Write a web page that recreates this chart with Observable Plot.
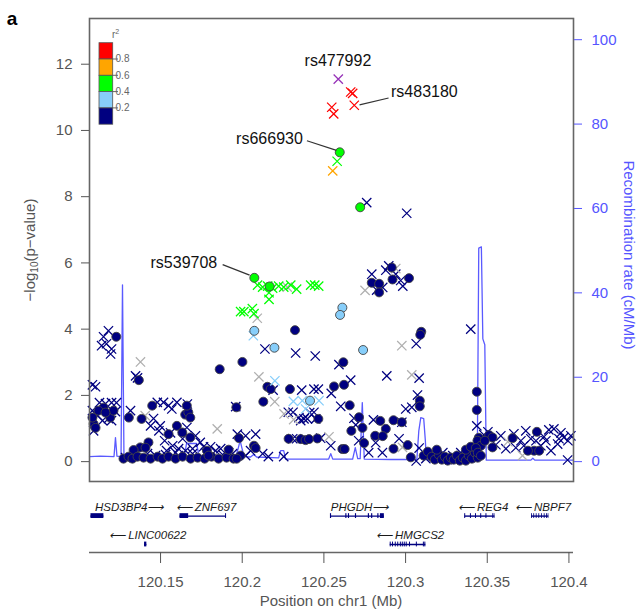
<!DOCTYPE html>
<html><head><meta charset="utf-8">
<script src="https://cdn.jsdelivr.net/npm/d3@7"></script>
<script src="https://cdn.jsdelivr.net/npm/@observablehq/plot@0.6"></script>
<style>
body{margin:0;background:#fff;font-family:"Liberation Sans",Arial,sans-serif;}
#wrap{position:relative;width:640px;height:610px;}
#wrap svg{display:block;}
</style></head><body><div id="wrap"></div>
<script>
// ---------- data ----------
const pTicks = [0, 2, 4, 6, 8, 10, 12];
const rateTicks = [0, 20, 40, 60, 80, 100];
const posTicks = [120.15, 120.2, 120.25, 120.3, 120.35, 120.4];
const ldKeys = ["n", "b", "g", "o", "r", "p", "x"];
const ldColors = ["#000080", "#87CEFA", "#00FF00", "#FFA500", "#FF0000", "#9632B8", "#B0B0B0"];
const legendColors = ["#FF0000", "#FFA500", "#00FF00", "#87CEFA", "#000080"];
const legendTicks = ["0.8", "0.6", "0.4", "0.2"];

// genotyped SNPs (circles): [position Mb, -log10 p, LD class]
const circles = [
[120.1229,3.77,"n"],[120.1151,1.63,"n"],[120.1120,1.54,"n"],[120.1192,1.33,"n"],[120.1212,1.54,"n"],
[120.1090,1.14,"n"],[120.1102,1.02,"n"],[120.1083,1.33,"n"],[120.1163,1.48,"n"],[120.1367,2.46,"n"],
[120.1306,1.33,"n"],[120.1384,1.29,"n"],[120.1449,1.69,"n"],[120.1426,0.58,"n"],[120.1376,0.43,"n"],
[120.1335,0.35,"n"],[120.1408,0.42,"n"],[120.1273,0.09,"n"],[120.1304,0.15,"n"],[120.1328,0.09,"n"],
[120.1359,0.15,"n"],[120.1396,0.12,"n"],[120.1439,0.09,"n"],[120.1482,0.15,"n"],[120.1651,1.42,"n"],
[120.1670,1.49,"n"],[120.1682,1.33,"n"],[120.1661,1.69,"n"],[120.1600,1.08,"n"],[120.1549,0.83,"n"],
[120.1682,0.73,"n"],[120.1633,0.88,"n"],[120.1784,0.33,"n"],[120.1862,2.79,"n"],[120.2001,3.01,"n"],
[120.1964,1.64,"n"],[120.1512,0.09,"n"],[120.1549,0.15,"n"],[120.1592,0.09,"n"],[120.1635,0.15,"n"],
[120.1684,0.09,"n"],[120.1727,0.12,"n"],[120.1770,0.09,"n"],[120.1812,0.15,"n"],[120.1855,0.09,"n"],
[120.1904,0.12,"n"],[120.1947,0.09,"n"],[120.1794,0.18,"n"],[120.1917,0.36,"n"],
[120.2323,3.97,"n"],[120.2154,2.26,"n"],[120.2174,2.19,"n"],[120.2292,2.19,"n"],[120.2129,1.81,"n"],
[120.2466,1.29,"n"],[120.1980,0.71,"n"],[120.2072,0.48,"n"],[120.2082,0.41,"n"],[120.2284,0.69,"n"],
[120.2358,0.68,"n"],[120.2388,0.65,"n"],[120.2409,0.68,"n"],[120.2460,0.70,"n"],[120.1990,0.18,"n"],
[120.1966,0.09,"n"],
[120.2793,5.40,"n"],[120.2838,5.37,"n"],[120.2838,5.11,"n"],[120.2915,5.86,"n"],[120.2920,5.50,"n"],
[120.3021,5.54,"n"],[120.3096,3.92,"n"],[120.3090,3.83,"n"],[120.2619,3.00,"n"],[120.2562,2.27,"n"],
[120.2623,2.32,"n"],[120.3087,1.84,"n"],[120.3087,1.67,"n"],[120.2658,1.70,"n"],[120.2715,1.34,"n"],
[120.2845,1.23,"n"],[120.2926,1.25,"n"],[120.2977,1.19,"n"],[120.2879,0.99,"n"],[120.2668,0.93,"n"],
[120.2736,1.02,"n"],[120.2814,0.78,"n"],[120.2860,0.77,"n"],[120.2746,0.56,"n"],[120.2613,0.38,"n"],
[120.2627,0.38,"n"],[120.2926,0.39,"n"],[120.3013,0.50,"n"],[120.3032,0.13,"n"],
[120.3111,0.18,"n"],[120.3136,0.30,"n"],[120.3160,0.15,"n"],[120.3179,0.06,"n"],[120.3203,0.21,"n"],
[120.3222,0.06,"n"],[120.3240,0.15,"n"],[120.3258,0.03,"n"],[120.3277,0.12,"n"],[120.3295,0.06,"n"],
[120.3314,0.18,"n"],[120.3332,0.03,"n"],[120.3350,0.12,"n"],[120.3369,0.03,"n"],[120.3387,0.18,"n"],
[120.3406,0.09,"n"],[120.3424,0.27,"n"],[120.3442,0.12,"n"],[120.3369,0.36,"n"],[120.3399,0.45,"n"],
[120.3436,2.11,"n"],[120.3436,1.56,"n"],[120.3448,0.72,"n"],[120.3440,0.63,"n"],[120.3461,0.48,"n"],
[120.3430,0.41,"n"],[120.3442,0.27,"n"],[120.3461,0.18,"n"],[120.3191,0.36,"n"],
[120.3512,0.80,"n"],[120.3532,0.73,"n"],[120.3532,0.43,"n"],[120.3655,0.71,"n"],[120.3804,0.90,"n"],
[120.3787,0.33,"n"],[120.3818,0.33,"n"],[120.3749,0.33,"n"],[120.3485,0.63,"n"],
[120.2074,3.95,"b"],[120.2197,3.44,"b"],[120.2415,1.84,"b"],[120.2613,4.65,"b"],[120.2599,4.43,"b"],
[120.2740,3.37,"b"],
[120.2074,5.55,"g"],[120.2168,5.29,"g"],[120.2722,7.68,"g"],[120.2597,9.34,"g"]
];

// imputed SNPs (crosses): [position Mb, -log10 p, LD class]
const crosses = [
[120.1083,2.32,"n"],[120.1102,2.26,"n"],[120.1139,3.50,"n"],[120.1151,3.77,"n"],[120.1181,3.95,"n"],
[120.1169,3.56,"n"],[120.1200,3.40,"n"],[120.1194,3.25,"n"],[120.1126,1.78,"n"],[120.1163,1.75,"n"],
[120.1200,1.78,"n"],[120.1230,1.78,"n"],[120.1224,1.51,"n"],[120.1200,1.24,"n"],[120.1181,1.30,"n"],
[120.1083,1.54,"n"],[120.1114,1.39,"n"],[120.1090,0.93,"n"],[120.1145,1.24,"n"],
[120.1347,2.59,"n"],[120.1359,2.53,"n"],[120.1377,3.01,"x"],[120.1316,1.54,"n"],[120.1457,1.30,"n"],
[120.1406,1.39,"x"],[120.1286,0.12,"n"],[120.1341,0.18,"n"],[120.1420,0.24,"n"],[120.1469,0.18,"n"],
[120.1518,1.79,"n"],[120.1549,1.69,"n"],[120.1569,1.59,"n"],[120.1600,1.79,"n"],[120.1664,1.74,"n"],
[120.1498,1.08,"n"],[120.1490,0.93,"n"],[120.1561,0.87,"n"],[120.1525,0.63,"n"],[120.1574,0.48,"n"],
[120.1610,0.39,"n"],[120.1635,0.69,"n"],[120.1661,1.03,"n"],[120.1714,0.78,"n"],[120.1743,0.58,"n"],
[120.1763,0.45,"n"],[120.1537,0.33,"n"],[120.1592,0.27,"n"],[120.1653,0.33,"n"],[120.1696,0.39,"n"],
[120.1847,0.99,"x"],[120.1960,1.66,"n"],[120.1531,0.21,"n"],[120.1610,0.18,"n"],[120.1696,0.24,"n"],
[120.1776,0.27,"n"],[120.1837,0.33,"n"],[120.1880,0.21,"n"],[120.1917,0.27,"n"],[120.1806,0.45,"n"],
[120.1868,0.39,"n"],[120.1941,0.24,"n"],[120.1480,1.79,"n"],[120.1439,1.08,"n"],
[120.2094,5.33,"g"],[120.2125,5.27,"g"],[120.2156,5.30,"g"],[120.2186,5.24,"g"],[120.2223,5.30,"g"],
[120.2254,5.27,"g"],[120.2297,5.33,"g"],[120.2333,5.21,"g"],[120.2419,5.33,"g"],[120.2444,5.33,"g"],
[120.2468,5.30,"g"],[120.2164,5.10,"g"],[120.2164,4.90,"g"],[120.1990,4.53,"g"],[120.2010,4.53,"g"],
[120.2062,4.62,"g"],[120.2072,4.47,"g"],[120.2276,5.27,"x"],[120.2092,4.33,"x"],[120.2068,3.80,"b"],
[120.2139,3.40,"n"],[120.2327,3.28,"n"],[120.2447,3.19,"n"],[120.2102,2.56,"x"],[120.2200,2.44,"b"],
[120.2189,2.16,"n"],[120.2364,2.16,"n"],[120.2439,2.19,"n"],[120.2466,2.19,"n"],[120.2199,1.81,"x"],
[120.2313,1.82,"b"],[120.2368,1.84,"b"],[120.2470,1.84,"b"],[120.2388,1.59,"b"],[120.2282,1.49,"n"],
[120.2311,1.49,"n"],[120.2347,1.33,"n"],[120.2378,1.29,"n"],[120.2399,1.29,"n"],[120.2439,1.49,"n"],
[120.2450,1.29,"n"],[120.2256,1.44,"x"],[120.2315,1.27,"x"],[120.1970,0.83,"n"],[120.2021,0.78,"n"],
[120.2082,0.83,"n"],[120.2160,0.15,"n"],[120.2309,0.69,"n"],[120.2333,0.69,"n"],[120.2480,0.71,"n"],
[120.2531,0.75,"x"],[120.2542,0.48,"n"],[120.2021,0.18,"n"],[120.2051,0.33,"n"],[120.2125,0.24,"n"],
[120.2254,0.15,"n"],[120.2358,1.24,"n"],[120.2413,1.48,"n"],
[120.2588,11.55,"p"],[120.2664,11.16,"r"],[120.2676,11.12,"r"],[120.2686,10.76,"r"],[120.2548,10.70,"r"],
[120.2560,10.50,"r"],[120.2581,9.07,"g"],[120.2554,8.78,"o"],[120.2762,7.82,"n"],[120.3007,7.50,"n"],
[120.2752,5.17,"x"],[120.2793,5.66,"n"],[120.2860,5.26,"n"],[120.2879,5.78,"n"],[120.2940,5.83,"x"],
[120.2970,5.47,"n"],[120.2940,5.66,"n"],[120.2897,5.91,"n"],[120.2983,5.30,"n"],[120.2823,5.18,"n"],
[120.3065,3.56,"n"],[120.2977,3.50,"x"],[120.2592,2.93,"n"],[120.2885,2.59,"n"],[120.3038,2.62,"x"],
[120.3083,2.52,"n"],[120.2664,2.46,"n"],[120.2545,2.06,"n"],[120.3073,2.01,"n"],[120.3001,1.59,"n"],
[120.3038,1.64,"n"],[120.2603,1.67,"n"],[120.2684,1.31,"n"],[120.2803,1.26,"n"],[120.2977,1.19,"n"],
[120.2960,0.69,"n"],[120.2858,0.27,"n"],[120.3083,0.41,"n"],[120.3065,0.02,"n"],[120.2981,0.43,"x"],
[120.2695,1.11,"n"],[120.2774,0.27,"n"],[120.2817,0.57,"n"],[120.2713,0.63,"n"],[120.3399,4.00,"n"],
[120.3124,0.09,"n"],[120.3154,0.27,"n"],[120.3191,0.12,"n"],[120.3228,0.27,"n"],[120.3252,0.12,"n"],
[120.3289,0.18,"n"],[120.3307,0.06,"n"],[120.3338,0.27,"n"],[120.3363,0.15,"n"],[120.3399,0.12,"n"],
[120.3418,0.39,"n"],[120.3436,1.08,"n"],[120.3479,0.81,"n"],
[120.3583,0.78,"n"],[120.3663,0.84,"n"],[120.3706,0.63,"n"],[120.3767,0.69,"n"],[120.3877,0.96,"n"],
[120.3908,0.99,"n"],[120.3931,0.53,"n"],[120.3969,0.73,"n"],[120.4012,0.78,"n"],[120.3992,0.05,"n"],
[120.3859,0.63,"n"],[120.3828,0.48,"n"],[120.3939,0.69,"n"],[120.3890,0.33,"n"],[120.3553,0.51,"n"],
[120.3614,0.39,"n"],[120.3675,0.42,"n"],[120.3724,0.48,"n"],[120.3798,0.63,"n"],[120.3847,0.75,"n"],
[120.3951,0.87,"n"],[120.3994,0.63,"n"],[120.3716,0.18,"x"],[120.3626,0.60,"x"],[120.3504,0.90,"n"],
[120.3736,0.93,"n"]
];

// recombination rate: [position Mb, cM/Mb]
const recomb = [
[120.1065,1.2],[120.1132,1.3],[120.1215,1.2],[120.1224,5.7],[120.1233,1.3],[120.1258,1.2],
[120.1267,41.9],[120.1276,0.9],[120.1439,0.9],[120.1644,0.9],[120.1659,4.3],[120.1721,4.3],
[120.1736,1.1],[120.1837,1.2],[120.1960,1.1],[120.1975,3.1],[120.1987,5.0],[120.1999,3.1],
[120.2012,1.2],[120.2051,1.1],[120.2070,1.7],[120.2088,1.1],[120.2223,0.9],[120.2235,2.6],
[120.2254,2.6],[120.2266,0.6],[120.2358,0.6],[120.2529,0.6],[120.2542,1.9],[120.2554,0.6],
[120.2676,0.6],[120.2692,3.3],[120.2707,0.7],[120.2722,0.7],[120.2735,14.0],[120.2747,0.6],
[120.2909,0.5],[120.3069,0.5],[120.3081,7.3],[120.3093,10.4],[120.3111,10.2],[120.3121,5.0],
[120.3127,0.5],[120.3277,0.35],[120.3439,0.35],[120.3448,50.6],[120.3464,50.9],[120.3473,29.1],
[120.3485,27.7],[120.3494,0.35],[120.3767,0.35],[120.3779,0.8],[120.3791,0.35],[120.4028,0.35]
];

// annotated SNPs
const snpIds = ["rs477992", "rs483180", "rs666930", "rs539708"];
const snpLabelPos = [120.2586, 120.2911, 120.2371, 120.1847];
const snpLabelP = [12.10, 11.16, 9.76, 6.00];
const snpLabelSide = ["middle", "start", "end", "end"];
const snpLinks = [
  [120.2896, 10.98, 120.2718, 10.77],
  [120.2396, 9.69, 120.2577, 9.40],
  [120.1880, 5.95, 120.2045, 5.63]
];

// genes
const geneNames = ["HSD3BP4", "ZNF697", "LINC00622", "PHGDH", "HMGCS2", "REG4", "NBPF7"];
const geneStart = [120.1074, 120.1619, 120.1402, 120.2542, 120.2906, 120.3364, 120.3771];
const geneEnd = [120.1153, 120.1904, 120.1416, 120.2870, 120.3124, 120.3547, 120.3877];
const geneStrand = ["+", "-", "-", "+", "-", "-", "-"];
const geneRow = [1, 1, 2, 1, 2, 1, 1];
const geneLabelPos = [120.1099, 120.1592, 120.1184, 120.2542, 120.2818, 120.3320, 120.3669];
const geneExons = [
  [[120.1074, 120.1153]],
  [[120.1619, 120.1672], [120.1898, 120.1904]],
  [[120.1402, 120.1416]],
  [[120.2540, 120.2547], [120.2634, 120.2641], [120.2650, 120.2657], [120.2693, 120.2700], [120.2772, 120.2779], [120.2792, 120.2799], [120.2830, 120.2837], [120.2846, 120.2870]],
  [[120.2906, 120.2912], [120.2920, 120.2926], [120.2937, 120.2943], [120.2952, 120.2958], [120.2968, 120.2974], [120.2980, 120.2986], [120.2992, 120.2998], [120.3004, 120.3010], [120.3024, 120.3030], [120.3066, 120.3072], [120.3109, 120.3115], [120.3118, 120.3124]],
  [[120.3362, 120.3368], [120.3397, 120.3403], [120.3428, 120.3434], [120.3460, 120.3466], [120.3492, 120.3498], [120.3534, 120.3540], [120.3543, 120.3547]],
  [[120.3771, 120.3776], [120.3785, 120.3790], [120.3800, 120.3805], [120.3816, 120.3821], [120.3832, 120.3837], [120.3849, 120.3854], [120.3863, 120.3868], [120.3873, 120.3877]]
];

// ---------- build ----------
const K = 0.1274;              // 1 cM/Mb on the -log10(p) axis (shared zero)
const xDomain = [120.1065, 120.4028];
const colorOf = k => ldColors[ldKeys.indexOf(k)];
const font = "Liberation Sans, Arial, Helvetica, sans-serif";
const order = ["n", "x", "b", "g", "o", "r", "p"];

const crossMarks = order.map(k => Plot.dot(crosses.filter(d => d[2] === k), {
  x: d => d[0], y: d => d[1], symbol: "times", r: 4.3, stroke: colorOf(k), strokeWidth: 1.25
}));
const circleMarks = order.map(k => Plot.dot(circles.filter(d => d[2] === k), {
  x: d => d[0], y: d => d[1], r: 4.5, fill: colorOf(k), stroke: "#444", strokeWidth: 0.9
}));
const labels = snpIds.map((id, i) => ({id, x: snpLabelPos[i], y: snpLabelP[i], side: snpLabelSide[i]}));

const main = Plot.plot({
  width: 640, height: 484,
  marginLeft: 89, marginRight: 67, marginTop: 18, marginBottom: 3,
  x: {domain: xDomain, axis: null},
  y: {domain: [-0.60, 13.38]},
  style: {fontFamily: font, background: "white", overflow: "visible"},
  marks: [
    Plot.line(recomb, {x: d => d[0], y: d => d[1] * K, stroke: "#5A5AFF", strokeWidth: 1.3}),
    ...crossMarks.slice(0, 2), ...circleMarks.slice(0, 1),
    ...crossMarks.slice(2), ...circleMarks.slice(1),
    Plot.link(snpLinks, {x1: d => d[0], y1: d => d[1], x2: d => d[2], y2: d => d[3], stroke: "#333", strokeWidth: 1.2}),
    ...["middle", "start", "end"].map(side => Plot.text(labels.filter(d => d.side === side), {
      x: "x", y: "y", text: "id", textAnchor: side, fontSize: 16, fill: "#111"
    })),
    Plot.frame({stroke: "#666", strokeWidth: 1.6}),
    Plot.axisY({anchor: "left", ticks: pTicks, tickSize: 8, tickPadding: 9, fontSize: 15, color: "#555", label: null}),
    Plot.axisY({anchor: "right", ticks: rateTicks.map(r => r * K), tickFormat: d => String(Math.round(d / K)),
      tickSize: 8, tickPadding: 10, fontSize: 15, color: "#5555FF", label: null})
  ]
});

// legend, panel letter and axis titles
const svg = d3.select(main);
svg.append("text").attr("x", 12).attr("y", 25).attr("font-size", 19).attr("font-weight", "bold")
  .attr("font-family", font).attr("fill", "#000").text("a");
const lg = svg.append("g").attr("transform", "translate(99,42.7)").attr("font-family", font);
const bh = 16.3;
legendColors.forEach((c, i) => lg.append("rect").attr("x", 0).attr("y", i * bh).attr("width", 13.7).attr("height", bh)
  .attr("fill", c).attr("stroke", "#555").attr("stroke-width", 0.8));
legendTicks.forEach((t, i) => {
  const y = (i + 1) * bh;
  lg.append("line").attr("x1", 13.7).attr("x2", 19).attr("y1", y).attr("y2", y).attr("stroke", "#666");
  lg.append("text").attr("x", 23.5).attr("y", y).attr("dy", "0.35em").attr("font-size", 10).attr("fill", "#666").text(t);
});
const r2 = lg.append("text").attr("x", 16.5).attr("y", -4.5).attr("font-size", 10).attr("fill", "#666");
r2.append("tspan").text("r");
r2.append("tspan").attr("dy", -4).attr("font-size", 7).text("2");

const yl = svg.append("text").attr("transform", "translate(31,250) rotate(-90)").attr("text-anchor", "middle")
  .attr("dominant-baseline", "middle").attr("font-size", 15).attr("fill", "#555").attr("font-family", font);
yl.append("tspan").text("−log");
yl.append("tspan").attr("font-size", 10).attr("dy", 4).text("10");
yl.append("tspan").attr("dy", -4).text("(p−value)");
svg.append("text").attr("transform", "translate(628,255) rotate(90)").attr("text-anchor", "middle")
  .attr("dominant-baseline", "middle").attr("font-size", 15).attr("fill", "#5555FF").attr("font-family", font)
  .text("Recombination rate (cM/Mb)");

// gene panel
const genes = geneNames.map((name, i) => ({
  name, start: geneStart[i], end: geneEnd[i], row: geneRow[i], lx: geneLabelPos[i],
  label: geneStrand[i] === "+" ? name + "⟶" : "⟵ " + name
}));
const exons = geneExons.flatMap((ex, i) => ex.map(([s, e]) => ({s, e, row: geneRow[i]})));
const geneY = [2.282, -0.1127];
const genePlot = Plot.plot({
  width: 640, height: 126,
  marginLeft: 89, marginRight: 67, marginTop: 0, marginBottom: 58,
  x: {domain: xDomain},
  y: {domain: geneY, axis: null},
  style: {fontFamily: font, background: "white", overflow: "visible"},
  marks: [
    Plot.ruleY(genes, {x1: "start", x2: "end", y: "row", stroke: "#000080", strokeWidth: 1.4}),
    Plot.rect(exons, {x1: "s", x2: "e", y1: d => d.row - 0.085, y2: d => d.row + 0.085, fill: "#000080"}),
    Plot.text(genes, {x: "lx", y: "row", text: "label", textAnchor: "start", dy: -9, fontSize: 11.5,
      fontStyle: "italic", fill: "#1a1a1a"}),
    Plot.ruleY([geneY[0]], {stroke: "#666", strokeWidth: 1.4}),
    Plot.axisX({anchor: "bottom", ticks: posTicks, tickFormat: d => String(+d.toFixed(2)), tickSize: 11,
      tickPadding: 13, fontSize: 15, color: "#555", label: null})
  ]
});
d3.select(genePlot).append("text").attr("x", 331).attr("y", 118).attr("text-anchor", "middle")
  .attr("dominant-baseline", "middle").attr("font-size", 15).attr("fill", "#555").attr("font-family", font)
  .text("Position on chr1 (Mb)");

const wrap = document.getElementById("wrap");
wrap.appendChild(main);
wrap.appendChild(genePlot);
</script></body></html>
